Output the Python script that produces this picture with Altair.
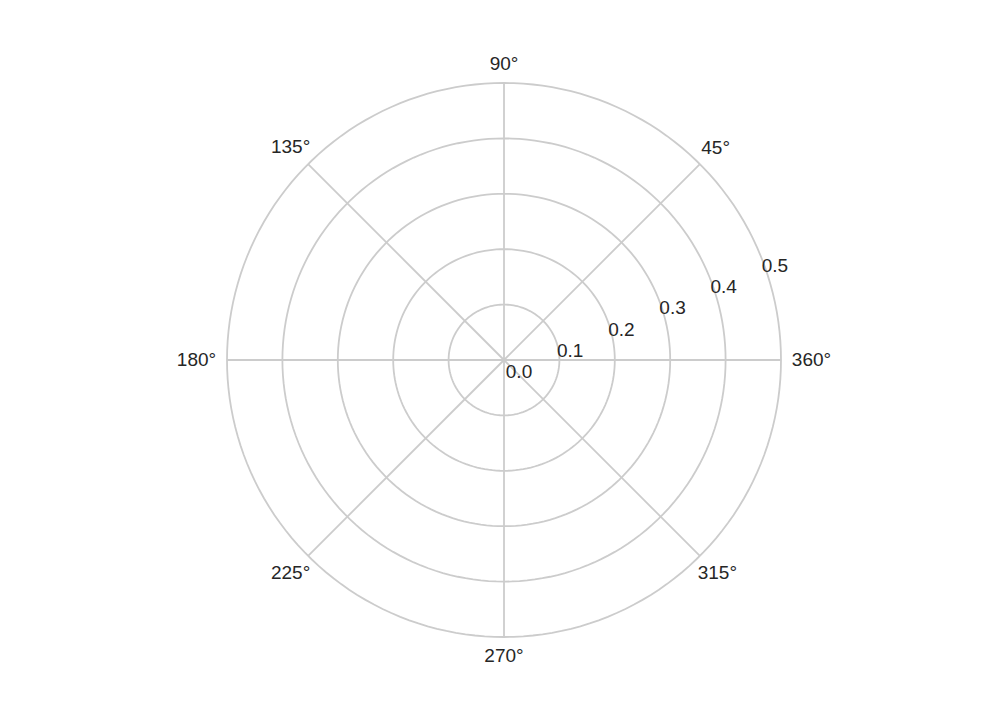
import numpy as np
import pandas as pd
import altair as alt

# ---- data ----
radii = [0.1, 0.2, 0.3, 0.4, 0.5]
radial_labels = ["0.0", "0.1", "0.2", "0.3", "0.4", "0.5"]
radial_values = [0.0, 0.1, 0.2, 0.3, 0.4, 0.5]
angles = [0, 45, 90, 135, 180, 225, 270, 315]
angle_labels = ["360°", "45°", "90°", "135°", "180°", "225°", "270°", "315°"]
r_max = 0.5
label_angle = 22.5

SIZE = 554  # plot size in px (diameter of outer circle)
GRID = "#cccccc"
TEXT = "#262626"
FONT = "Liberation Sans"
FS = 19

# circles
rows = []
for r in radii:
    for i, t in enumerate(np.arange(0, 361, 2)):
        rows.append({"r": r, "i": i,
                     "x": r * np.cos(np.radians(t)),
                     "y": r * np.sin(np.radians(t))})
circ = pd.DataFrame(rows)

# spokes
spk = pd.DataFrame({
    "a": angles,
    "x": 0.0, "y": 0.0,
    "x2": [r_max * np.cos(np.radians(a)) for a in angles],
    "y2": [r_max * np.sin(np.radians(a)) for a in angles],
})

# angular labels (centre placed just outside the outer circle)
lab_rows = []
for a, lab in zip(angles, angle_labels):
    nd = len(lab) - 1
    hw = 4.5 + 5 * nd
    hh = 8
    c, s = np.cos(np.radians(a)), np.sin(np.radians(a))
    d = (SIZE / 2 + 11 + hw * c * c + hh * s * s) / SIZE
    lab_rows.append({"label": lab, "x": d * c, "y": d * s})
alab = pd.DataFrame(lab_rows)

# radial labels
rlab = pd.DataFrame({
    "label": radial_labels,
    "x": [v * np.cos(np.radians(label_angle)) for v in radial_values],
    "y": [v * np.sin(np.radians(label_angle)) for v in radial_values],
})

xs = alt.Scale(domain=[-0.5, 0.5], nice=False, zero=False)
ys = alt.Scale(domain=[-0.5, 0.5], nice=False, zero=False)

circles = alt.Chart(circ).mark_line(color=GRID, strokeWidth=1.8, clip=False).encode(
    x=alt.X("x:Q", scale=xs, axis=None),
    y=alt.Y("y:Q", scale=ys, axis=None),
    detail="r:N",
    order="i:Q",
)

spokes = alt.Chart(spk).mark_rule(color=GRID, strokeWidth=1.8).encode(
    x=alt.X("x:Q", scale=xs, axis=None),
    y=alt.Y("y:Q", scale=ys, axis=None),
    x2="x2:Q",
    y2="y2:Q",
)

atext = alt.Chart(alab).mark_text(
    font=FONT, fontSize=FS, color=TEXT, align="center", baseline="middle"
).encode(
    x=alt.X("x:Q", scale=xs, axis=None),
    y=alt.Y("y:Q", scale=ys, axis=None),
    text="label:N",
)

rtext = alt.Chart(rlab).mark_text(
    font=FONT, fontSize=FS, color=TEXT, align="center", baseline="middle",
    dx=15, dy=12
).encode(
    x=alt.X("x:Q", scale=xs, axis=None),
    y=alt.Y("y:Q", scale=ys, axis=None),
    text="label:N",
)

chart = alt.layer(circles, spokes, atext, rtext).properties(
    width=SIZE, height=SIZE,
    autosize=alt.AutoSizeParams(type="none"),
    padding={"left": 219, "top": 75, "right": 80, "bottom": 60},
    background="white",
).configure_view(strokeWidth=0)

chart.save("out.html", embed_options={"renderer": "svg", "actions": False})
